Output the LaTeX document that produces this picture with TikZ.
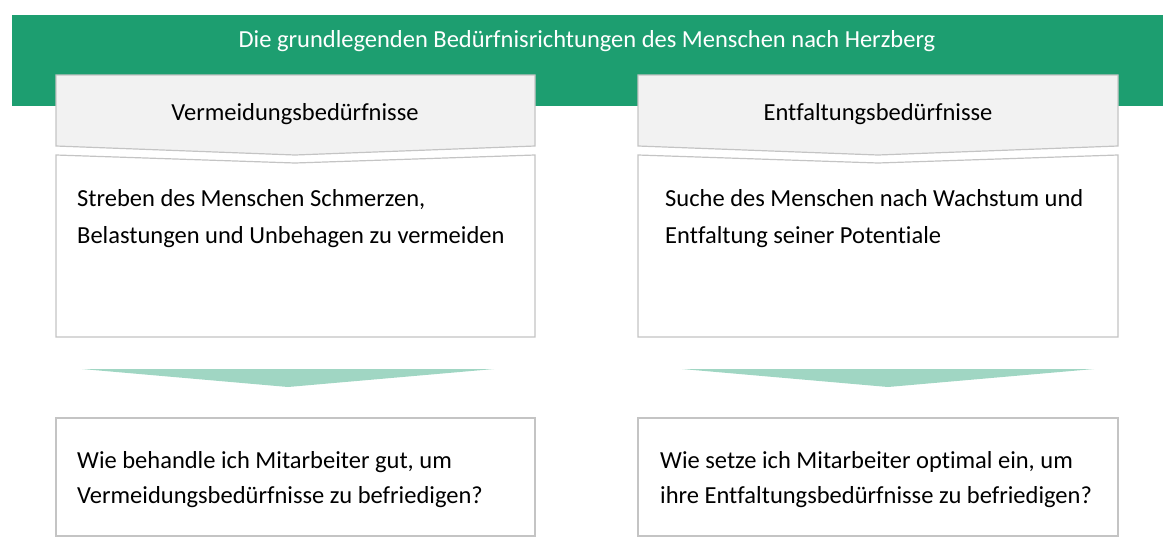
\documentclass[tikz,border=0pt]{standalone}
\usepackage{fontspec}
\setmainfont{Carlito}[Ligatures=NoCommon]
\definecolor{headgreen}{HTML}{1D9E70}
\definecolor{headgray}{HTML}{F2F2F2}
\definecolor{linegray}{HTML}{C4C4C4}
\definecolor{arrowgreen}{HTML}{A0D6C3}

\begin{document}
\begin{tikzpicture}[x=1pt,y=-1pt,
    headtext/.style={inner sep=0pt,font=\fontsize{24.5}{29}\selectfont},
    bodytext/.style={anchor=west,align=left,inner sep=0pt,font=\fontsize{24.5}{37}\selectfont},
    asktext/.style={bodytext,font=\fontsize{24.5}{35}\selectfont},
    headbox/.style={fill=headgray,draw=linegray,line width=1.2pt},
    bodybox/.style={fill=white,draw=linegray,line width=1.2pt}]
    \useasboundingbox (0,0) rectangle (1173,550);

    \fill[headgreen] (12,15) rectangle (1163,106);
    \node[headtext,text=white] (title) at (587,41) {Die grundlegenden Bedürfnisrichtungen des Menschen nach Herzberg};

    \filldraw[headbox] (56,75) -- (535,75) -- (535,146) -- (295,155) -- (56,146) -- cycle;
    \filldraw[headbox] (638,75) -- (1118,75) -- (1118,146) -- (878,155) -- (638,146) -- cycle;
    \node[headtext] (avoid) at (295,114) {Vermeidungsbedürfnisse};
    \node[headtext] (grow) at (878,114) {Entfaltungsbedürfnisse};

    \filldraw[bodybox] (56,155) -- (295,163) -- (535,155) -- (535,337) -- (56,337) -- cycle;
    \filldraw[bodybox] (638,155) -- (878,163) -- (1118,155) -- (1118,337) -- (638,337) -- cycle;
    \node[bodytext] (avoidtext) at (77,219) {Streben des Menschen Schmerzen,\\Belastungen und Unbehagen zu vermeiden};
    \node[bodytext] (growtext) at (665,219) {Suche des Menschen nach Wachstum und\\Entfaltung seiner Potentiale};

    \fill[arrowgreen] (82,369) -- (494,369) -- (288,387) -- cycle;
    \fill[arrowgreen] (682,369) -- (1094,369) -- (888,387) -- cycle;

    \filldraw[bodybox] (56,418) rectangle (535,536);
    \filldraw[bodybox] (638,418) rectangle (1118,536);
    \node[asktext] (avoidask) at (77,480) {Wie behandle ich Mitarbeiter gut, um\\Vermeidungsbedürfnisse zu befriedigen?};
    \node[asktext] (growask) at (660,480) {Wie setze ich Mitarbeiter optimal ein, um\\ihre Entfaltungsbedürfnisse zu befriedigen?};
\end{tikzpicture}
\end{document}
